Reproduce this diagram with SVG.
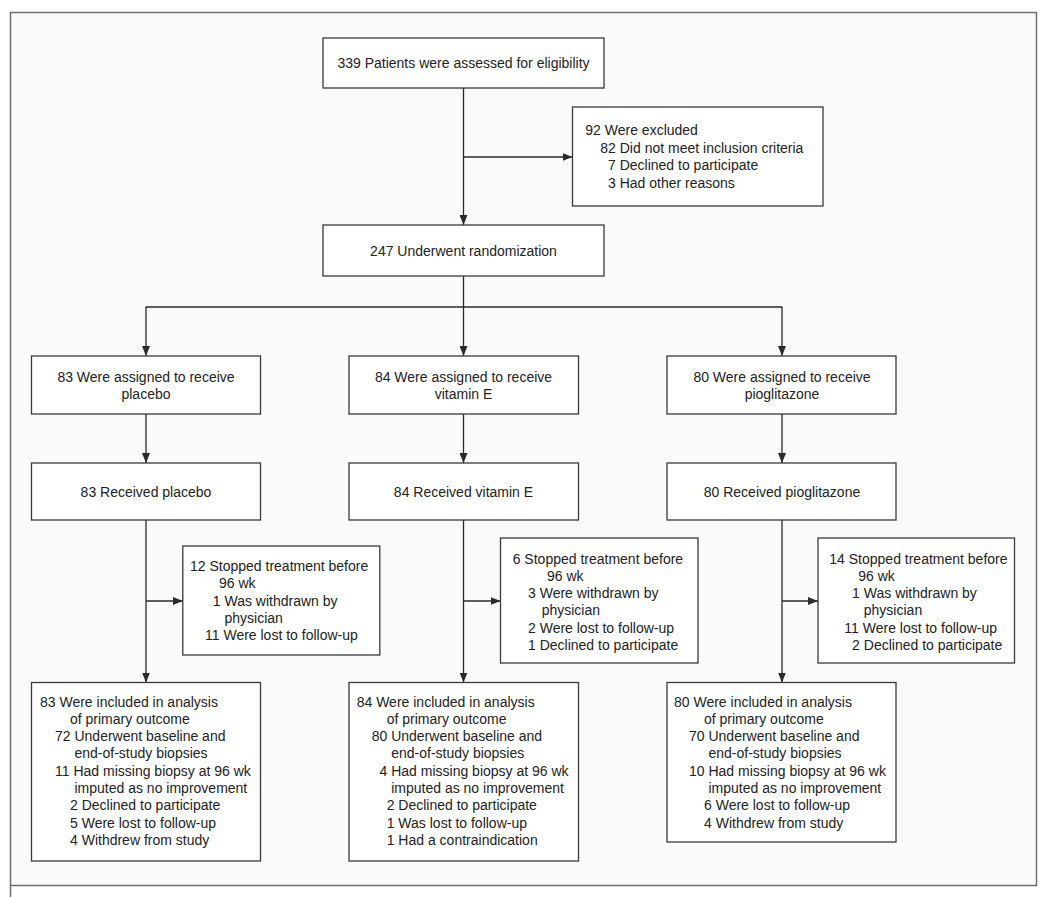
<svg xmlns="http://www.w3.org/2000/svg" width="1050" height="897" viewBox="0 0 1050 897">
<style>
  .box{fill:#ffffff;stroke:#3a3a3a;stroke-width:1.3}
  .t{font-family:"Liberation Sans",Arial,sans-serif;font-size:14px;fill:#222222}
  .c{text-anchor:middle}
  .ln{fill:none;stroke:#2a2a2a;stroke-width:1.3}
</style>
<defs>
  <marker id="ah" viewBox="0 0 10 8" refX="10" refY="4" markerWidth="10" markerHeight="8" markerUnits="userSpaceOnUse" orient="auto">
    <path d="M0,0 L10,4 L0,8 z" fill="#2a2a2a"/>
  </marker>
</defs>
<rect width="1050" height="897" fill="#ffffff"/>
<g id="frame">
  <rect x="10.5" y="12.5" width="1026" height="873" fill="#fafafa" stroke="#707070" stroke-width="1.5"/>
  <line x1="10.5" y1="885" x2="10.5" y2="897" stroke="#707070" stroke-width="1.5"/>
</g>
<g id="connectors">
  <line class="ln" x1="463.5" y1="88" x2="463.5" y2="225" marker-end="url(#ah)"/>
  <line class="ln" x1="463.5" y1="157" x2="572.5" y2="157" marker-end="url(#ah)"/>
  <line class="ln" x1="463.5" y1="276" x2="463.5" y2="356" marker-end="url(#ah)"/>
  <line class="ln" x1="146" y1="307" x2="782" y2="307"/>
  <line class="ln" x1="146" y1="307" x2="146" y2="356" marker-end="url(#ah)"/>
  <line class="ln" x1="782" y1="307" x2="782" y2="356" marker-end="url(#ah)"/>
  <line class="ln" x1="146" y1="414" x2="146" y2="463" marker-end="url(#ah)"/>
  <line class="ln" x1="463.5" y1="414" x2="463.5" y2="463" marker-end="url(#ah)"/>
  <line class="ln" x1="782" y1="414" x2="782" y2="463" marker-end="url(#ah)"/>
  <line class="ln" x1="146" y1="520" x2="146" y2="682.5" marker-end="url(#ah)"/>
  <line class="ln" x1="463.5" y1="520" x2="463.5" y2="682.5" marker-end="url(#ah)"/>
  <line class="ln" x1="782" y1="520" x2="782" y2="682.5" marker-end="url(#ah)"/>
  <line class="ln" x1="146" y1="601" x2="182.8" y2="601" marker-end="url(#ah)"/>
  <line class="ln" x1="463.5" y1="601" x2="500.5" y2="601" marker-end="url(#ah)"/>
  <line class="ln" x1="782" y1="601" x2="818" y2="601" marker-end="url(#ah)"/>
</g>
<g id="assessed">
  <rect class="box" x="323" y="38" width="281" height="50"/>
  <text class="t c" x="463.5" y="67.5">339 Patients were assessed for eligibility</text>
</g>
<g id="excluded">
  <rect class="box" x="572.5" y="107" width="250.5" height="99"/>
  <text class="t" x="585.3" y="135">92 Were excluded</text>
  <text class="t" x="600.3" y="152.5">82 Did not meet inclusion criteria</text>
  <text class="t" x="608" y="170">7 Declined to participate</text>
  <text class="t" x="608" y="187.5">3 Had other reasons</text>
</g>
<g id="randomization">
  <rect class="box" x="323" y="225" width="281" height="51"/>
  <text class="t c" x="463.5" y="255.5">247 Underwent randomization</text>
</g>
<g id="assigned-placebo">
  <rect class="box" x="31.5" y="356" width="229" height="58"/>
  <text class="t c" x="146" y="381.5">83 Were assigned to receive</text>
  <text class="t c" x="146" y="399">placebo</text>
</g>
<g id="assigned-vitamine">
  <rect class="box" x="349" y="356" width="229.5" height="58"/>
  <text class="t c" x="463.5" y="381.5">84 Were assigned to receive</text>
  <text class="t c" x="463.5" y="399">vitamin E</text>
</g>
<g id="assigned-pioglitazone">
  <rect class="box" x="667" y="356" width="229" height="58"/>
  <text class="t c" x="782" y="381.5">80 Were assigned to receive</text>
  <text class="t c" x="782" y="399">pioglitazone</text>
</g>
<g id="received-placebo">
  <rect class="box" x="31.5" y="463" width="229" height="57"/>
  <text class="t c" x="146" y="496.5">83 Received placebo</text>
</g>
<g id="received-vitamine">
  <rect class="box" x="349" y="463" width="229.5" height="57"/>
  <text class="t c" x="463.5" y="496.5">84 Received vitamin E</text>
</g>
<g id="received-pioglitazone">
  <rect class="box" x="667" y="463" width="229" height="57"/>
  <text class="t c" x="782" y="496.5">80 Received pioglitazone</text>
</g>
<g id="stopped-placebo">
  <rect class="box" x="182.8" y="546" width="197" height="109"/>
  <text class="t" x="190" y="571">12 Stopped treatment before</text>
  <text class="t" x="219" y="588.3">96 wk</text>
  <text class="t" x="212.8" y="605.6">1 Was withdrawn by</text>
  <text class="t" x="224.5" y="622.9">physician</text>
  <text class="t" x="205" y="640.2">11 Were lost to follow-up</text>
</g>
<g id="stopped-vitamine">
  <rect class="box" x="500.5" y="538" width="197.5" height="125"/>
  <text class="t" x="512.7" y="563.5">6 Stopped treatment before</text>
  <text class="t" x="547" y="580.8">96 wk</text>
  <text class="t" x="528" y="598.1">3 Were withdrawn by</text>
  <text class="t" x="541.7" y="615.4">physician</text>
  <text class="t" x="528" y="632.7">2 Were lost to follow-up</text>
  <text class="t" x="528" y="650">1 Declined to participate</text>
</g>
<g id="stopped-pioglitazone">
  <rect class="box" x="818" y="538" width="196.5" height="125"/>
  <text class="t" x="829.3" y="563.5">14 Stopped treatment before</text>
  <text class="t" x="858.3" y="580.8">96 wk</text>
  <text class="t" x="852.1" y="598.1">1 Was withdrawn by</text>
  <text class="t" x="863.8" y="615.4">physician</text>
  <text class="t" x="844.3" y="632.7">11 Were lost to follow-up</text>
  <text class="t" x="852.1" y="650">2 Declined to participate</text>
</g>
<g id="analysis-placebo">
  <rect class="box" x="31.5" y="682.5" width="229" height="178.5"/>
  <text class="t" x="40" y="706.5">83 Were included in analysis</text>
  <text class="t" x="70" y="723.8">of primary outcome</text>
  <text class="t" x="55" y="741.1">72 Underwent baseline and</text>
  <text class="t" x="74.5" y="758.4">end-of-study biopsies</text>
  <text class="t" x="55" y="775.7">11 Had missing biopsy at 96 wk</text>
  <text class="t" x="74.5" y="793">imputed as no improvement</text>
  <text class="t" x="70" y="810.3">2 Declined to participate</text>
  <text class="t" x="70" y="827.6">5 Were lost to follow-up</text>
  <text class="t" x="70" y="844.9">4 Withdrew from study</text>
</g>
<g id="analysis-vitamine">
  <rect class="box" x="349" y="682.5" width="229.5" height="178.5"/>
  <text class="t" x="356.7" y="706.5">84 Were included in analysis</text>
  <text class="t" x="386.7" y="723.8">of primary outcome</text>
  <text class="t" x="371.7" y="741.1">80 Underwent baseline and</text>
  <text class="t" x="391.2" y="758.4">end-of-study biopsies</text>
  <text class="t" x="379.5" y="775.7">4 Had missing biopsy at 96 wk</text>
  <text class="t" x="391.2" y="793">imputed as no improvement</text>
  <text class="t" x="386.7" y="810.3">2 Declined to participate</text>
  <text class="t" x="386.7" y="827.6">1 Was lost to follow-up</text>
  <text class="t" x="386.7" y="844.9">1 Had a contraindication</text>
</g>
<g id="analysis-pioglitazone">
  <rect class="box" x="667" y="682.5" width="229" height="159.5"/>
  <text class="t" x="674" y="706.5">80 Were included in analysis</text>
  <text class="t" x="704" y="723.8">of primary outcome</text>
  <text class="t" x="689" y="741.1">70 Underwent baseline and</text>
  <text class="t" x="708.5" y="758.4">end-of-study biopsies</text>
  <text class="t" x="689" y="775.7">10 Had missing biopsy at 96 wk</text>
  <text class="t" x="708.5" y="793">imputed as no improvement</text>
  <text class="t" x="704" y="810.3">6 Were lost to follow-up</text>
  <text class="t" x="704" y="827.6">4 Withdrew from study</text>
</g>
</svg>
